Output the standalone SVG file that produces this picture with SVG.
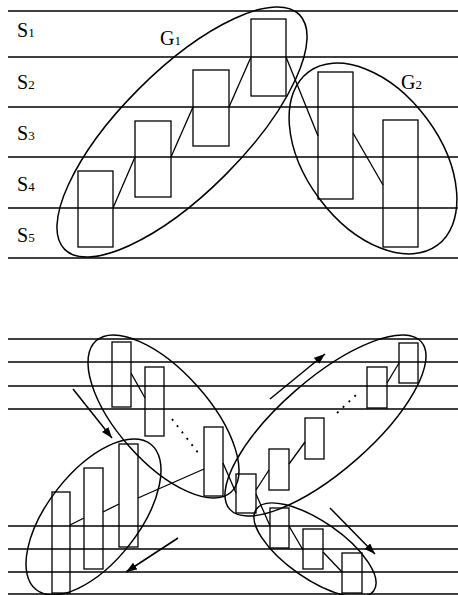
<svg xmlns="http://www.w3.org/2000/svg" width="458" height="595" viewBox="0 0 458 595">
<style>
.ln{stroke:#000;stroke-width:1.6;fill:none}
.bx{stroke:#000;stroke-width:1.3;fill:none}
.el{stroke:#000;stroke-width:1.5;fill:none}
.cn{stroke:#000;stroke-width:1.3;fill:none}
.dt{stroke:#000;stroke-width:1.8;fill:none;stroke-dasharray:2 6}
.ar{stroke:#000;stroke-width:1.5;fill:none;marker-end:url(#ah)}
.lb{font-family:"Liberation Serif","Times New Roman",serif;font-size:20px;fill:#000}
.sb{font-size:13px}
</style>
<defs>
<marker id="ah" markerUnits="userSpaceOnUse" markerWidth="14" markerHeight="10" refX="11" refY="4" orient="auto">
<path d="M0,0 L11,4 L0,8 Z" fill="#000"/>
</marker>
</defs>
<rect width="458" height="595" fill="#fff"/>
<g id="staff-top">
<line class="ln" x1="8" y1="11" x2="458" y2="11"/>
<line class="ln" x1="8" y1="57" x2="458" y2="57"/>
<line class="ln" x1="8" y1="107" x2="458" y2="107"/>
<line class="ln" x1="8" y1="157" x2="458" y2="157"/>
<line class="ln" x1="8" y1="208" x2="458" y2="208"/>
<line class="ln" x1="8" y1="258" x2="458" y2="258"/>
</g>
<g id="labels">
<text class="lb" x="17" y="37">S<tspan class="sb">1</tspan></text>
<text class="lb" x="17" y="89">S<tspan class="sb">2</tspan></text>
<text class="lb" x="17" y="140">S<tspan class="sb">3</tspan></text>
<text class="lb" x="17" y="191">S<tspan class="sb">4</tspan></text>
<text class="lb" x="17" y="242">S<tspan class="sb">5</tspan></text>
<text class="lb" x="160" y="45">G<tspan class="sb">1</tspan></text>
<text class="lb" x="401" y="89">G<tspan class="sb">2</tspan></text>
</g>
<g id="top-nodes">
<rect id="t1" class="bx" x="78" y="171" width="35" height="76"/>
<rect id="t2" class="bx" x="135" y="121" width="36" height="76"/>
<rect id="t3" class="bx" x="193" y="70" width="36" height="76"/>
<rect id="t4" class="bx" x="251" y="19" width="35" height="77"/>
<rect id="t5" class="bx" x="318" y="72" width="35" height="127"/>
<rect id="t6" class="bx" x="383" y="120" width="35" height="127"/>
</g>
<g id="top-groups">
<ellipse id="G1" class="el" cx="182" cy="132" rx="166" ry="61" transform="rotate(-45 182 132)"/>
<ellipse id="G2" class="el" cx="373" cy="158.5" rx="108" ry="67" transform="rotate(53.4 373 158.5)"/>
</g>
<g id="top-connectors">
<line class="cn" x1="113" y1="208" x2="135" y2="157"/>
<line class="cn" x1="171" y1="157" x2="193" y2="107"/>
<line class="cn" x1="229" y1="107" x2="251" y2="57"/>
<line class="cn" x1="286" y1="57" x2="318" y2="136"/>
<line class="cn" x1="353" y1="133" x2="383" y2="185"/>
</g>
<g id="staff-bottom">
<line class="ln" x1="8" y1="339" x2="458" y2="339"/>
<line class="ln" x1="8" y1="362" x2="458" y2="362"/>
<line class="ln" x1="8" y1="386" x2="458" y2="386"/>
<line class="ln" x1="8" y1="409" x2="458" y2="409"/>
<line class="ln" x1="8" y1="526" x2="458" y2="526"/>
<line class="ln" x1="8" y1="549" x2="458" y2="549"/>
<line class="ln" x1="8" y1="572" x2="458" y2="572"/>
<line class="ln" x1="8" y1="594" x2="458" y2="594"/>
</g>
<g id="bottom-nodes">
<rect id="a1" class="bx" x="112" y="342" width="19" height="65"/>
<rect id="a2" class="bx" x="145" y="367" width="19" height="69"/>
<rect id="a3" class="bx" x="204" y="427" width="19" height="69"/>
<rect id="b1" class="bx" x="52" y="492" width="18" height="101"/>
<rect id="b2" class="bx" x="84" y="468" width="19" height="101"/>
<rect id="b3" class="bx" x="119" y="444" width="19" height="103"/>
<rect id="c1" class="bx" x="236" y="474" width="20" height="39"/>
<rect id="d1" class="bx" x="269" y="449" width="20" height="41"/>
<rect id="d2" class="bx" x="305" y="418" width="19" height="41"/>
<rect id="d3" class="bx" x="367" y="367" width="20" height="41"/>
<rect id="d4" class="bx" x="399" y="343" width="19" height="40"/>
<rect id="e1" class="bx" x="270" y="508" width="19" height="40"/>
<rect id="e2" class="bx" x="303" y="529" width="20" height="40"/>
<rect id="e3" class="bx" x="342" y="553" width="20" height="40"/>
</g>
<g id="bottom-groups">
<ellipse id="GA" class="el" cx="163.5" cy="416.5" rx="101.4" ry="45.5" transform="rotate(48.3 163.5 416.5)"/>
<ellipse id="GB" class="el" cx="93.5" cy="517" rx="92.6" ry="45.5" transform="rotate(-51.8 93.5 517)"/>
<ellipse id="GD" class="el" cx="325.5" cy="425.5" rx="127.2" ry="46" transform="rotate(-41.1 325.5 425.5)"/>
<ellipse id="GE" class="el" cx="315" cy="550" rx="71.5" ry="28.6" transform="rotate(34.7 315 550)"/>
</g>
<g id="bottom-connectors">
<line class="cn" x1="131" y1="373" x2="145" y2="398"/>
<line class="dt" x1="172" y1="419" x2="199" y2="454"/>
<line class="cn" x1="204" y1="469" x2="138" y2="498"/>
<line class="cn" x1="119" y1="504" x2="103" y2="512"/>
<line class="cn" x1="84" y1="518" x2="70" y2="525"/>
<line class="cn" x1="223" y1="463" x2="236" y2="493"/>
<line class="cn" x1="256" y1="490" x2="269" y2="470"/>
<line class="cn" x1="289" y1="464" x2="305" y2="442"/>
<line class="dt" x1="337" y1="413" x2="356" y2="395"/>
<line class="cn" x1="387" y1="383" x2="399" y2="363"/>
<line class="cn" x1="256" y1="494" x2="270" y2="526"/>
<line class="cn" x1="289" y1="526" x2="303" y2="550"/>
<line class="cn" x1="323" y1="552" x2="342" y2="572"/>
<line class="ar" x1="73" y1="389" x2="112" y2="438"/>
<line class="ar" x1="178" y1="538" x2="126" y2="572"/>
<line class="ar" x1="270" y1="399" x2="325" y2="354"/>
<line class="ar" x1="330" y1="508" x2="375" y2="554"/>
</g>
</svg>
